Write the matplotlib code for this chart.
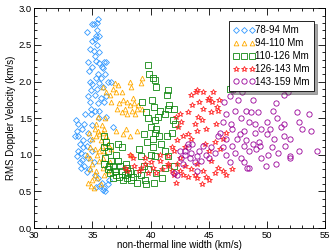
import matplotlib
matplotlib.use('Agg')
import matplotlib.pyplot as plt
from matplotlib.ticker import MultipleLocator

plt.rcParams['font.family'] = ['Liberation Sans', 'DejaVu Sans']

# 78-94 Mm
x1 = [35.5, 35.4, 35.0, 35.1, 34.5, 35.4, 35.6, 35.2, 35.3, 35.0, 35.4, 34.8, 35.1, 35.6, 35.2,
      34.6, 35.3, 35.6, 36.0, 36.2, 35.8, 35.0, 34.7, 35.5, 35.9, 36.1, 35.3, 35.7, 34.8, 35.0,
      35.6, 36.3, 36.6, 35.9, 35.4, 34.9, 35.2, 34.6, 35.7, 36.2, 34.8, 35.5, 36.0, 35.2, 34.9,
      35.6, 34.4, 33.6, 33.8, 34.3, 35.0, 36.2, 33.7, 34.1, 34.6, 33.8, 34.2, 33.9, 34.5, 33.8,
      34.0, 34.4, 33.7, 34.1, 33.9, 34.3, 34.0, 34.7, 34.5, 35.5, 35.8, 35.6, 36.0, 36.1, 35.9,
      36.3, 35.3, 36.8, 35.0, 34.6, 35.2, 35.6, 34.2, 34.8, 36.4, 35.1, 33.5, 34.9]
y1 = [2.85, 2.80, 2.78, 2.78, 2.68, 2.70, 2.62, 2.58, 2.62, 2.55, 2.50, 2.45, 2.42, 2.40, 2.35,
      2.27, 2.28, 2.25, 2.27, 2.27, 2.20, 2.20, 2.15, 2.10, 2.18, 2.10, 2.05, 2.05, 2.00, 1.97,
      1.98, 2.00, 2.00, 1.92, 1.90, 1.88, 1.82, 1.80, 1.78, 1.80, 1.72, 1.70, 1.72, 1.60, 1.55,
      1.50, 1.55, 1.48, 1.42, 1.42, 1.40, 1.52, 1.32, 1.35, 1.30, 1.25, 1.20, 1.15, 1.12, 1.05,
      1.02, 1.00, 0.98, 0.93, 0.90, 0.85, 0.82, 0.80, 0.76, 0.68, 0.62, 0.58, 0.55, 0.50, 0.52,
      0.60, 0.56, 1.38, 1.05, 0.95, 0.72, 1.60, 1.10, 1.20, 0.65, 0.90, 1.25, 1.62]

# 94-110 Mm
x2 = [39.3, 39.2, 38.2, 38.3, 37.2, 36.9, 36.8, 37.0, 37.5, 35.9, 36.2, 36.5, 38.5, 37.6, 37.3,
      36.6, 38.0, 38.2, 38.6, 38.9, 37.1, 37.8, 38.4, 38.8, 39.3, 37.5, 38.7, 35.5, 36.1, 38.0,
      35.3, 35.8, 36.0, 35.2, 35.5, 35.9, 35.3, 35.0, 35.7, 36.2, 37.0, 38.8, 37.9, 38.2, 35.6,
      34.8, 35.2, 35.8, 34.5, 35.4, 36.0, 34.8, 35.0, 35.6, 36.5, 38.3, 34.8, 35.3, 35.9, 35.2,
      35.0, 34.6, 34.9, 35.1, 35.4, 35.7, 36.0, 36.3, 35.6, 34.7, 36.3, 36.6, 37.6, 35.9]
y2 = [2.05, 1.98, 2.00, 1.92, 1.95, 1.98, 1.90, 1.85, 1.85, 1.92, 1.85, 1.82, 1.78, 1.75, 1.70,
      1.72, 1.72, 1.68, 1.70, 1.68, 1.62, 1.62, 1.60, 1.62, 1.62, 1.58, 1.55, 1.52, 1.50, 1.55,
      1.42, 1.40, 1.35, 1.35, 1.32, 1.30, 1.25, 1.22, 1.20, 1.25, 1.32, 1.32, 1.35, 1.25, 1.28,
      1.10, 1.08, 1.12, 1.00, 1.00, 1.05, 0.95, 0.88, 0.92, 0.90, 1.00, 0.80, 0.78, 0.82, 0.72,
      0.65, 0.62, 0.58, 0.55, 0.68, 0.60, 0.72, 0.78, 1.05, 1.30, 1.15, 1.08, 1.28, 0.95]

# 110-126 Mm
x3 = [39.8, 39.9, 40.2, 40.4, 40.5, 41.5, 41.4, 46.8, 40.1, 39.3, 40.3, 39.6, 41.6, 41.5, 40.8,
      42.0, 41.2, 39.8, 40.4, 40.6, 41.9, 40.0, 40.4, 39.4, 40.2, 40.7, 41.4, 41.8, 42.1, 40.5,
      39.7, 40.2, 40.9, 41.2, 36.0, 36.2, 36.0, 36.5, 37.2, 37.5, 36.3, 37.0, 39.0, 39.2, 40.0,
      40.4, 41.5, 36.1, 36.6, 37.2, 36.0, 36.8, 37.4, 38.0, 36.3, 36.9, 37.5, 38.2, 38.8, 36.5,
      37.0, 37.8, 38.5, 39.2, 37.3, 36.8, 38.0, 39.5, 38.3, 37.6, 38.8, 39.6, 40.3, 41.0, 40.5,
      41.2, 42.0, 39.8, 38.1, 36.4, 37.9, 39.4]
y3 = [2.22, 2.10, 2.05, 2.02, 1.92, 1.88, 1.82, 1.90, 1.75, 1.72, 1.65, 1.58, 1.68, 1.62, 1.60,
      1.62, 1.55, 1.50, 1.48, 1.52, 1.48, 1.38, 1.30, 1.28, 1.22, 1.25, 1.25, 1.30, 1.42, 1.35,
      1.18, 1.10, 1.15, 1.05, 1.25, 1.18, 1.10, 1.12, 1.15, 1.10, 1.05, 1.00, 1.08, 0.98, 1.00,
      0.98, 0.98, 0.95, 0.92, 0.92, 0.88, 0.85, 0.85, 0.82, 0.80, 0.78, 0.78, 0.78, 0.75, 0.75,
      0.72, 0.72, 0.70, 0.72, 0.70, 0.68, 0.68, 0.65, 0.65, 0.65, 0.62, 0.60, 0.62, 0.68, 0.75,
      0.82, 0.85, 0.80, 0.75, 0.85, 0.88, 0.85]

# 126-143 Mm
x4 = [44.0, 43.9, 44.5, 45.4, 43.5, 45.0, 45.9, 44.9, 44.2, 45.3, 45.7, 43.6, 44.5, 45.2, 45.8,
      43.2, 42.5, 42.2, 44.1, 44.4, 42.6, 43.8, 45.6, 42.4, 44.0, 44.8, 43.2, 42.8, 43.5, 42.3,
      44.7, 45.5, 46.2, 46.5, 41.8, 42.0, 43.0, 45.0, 46.0, 40.8, 41.5, 42.5, 38.5, 38.2, 39.5,
      40.0, 40.8, 41.5, 42.3, 43.0, 44.0, 45.2, 38.6, 39.2, 40.2, 41.0, 41.8, 42.5, 43.5, 44.5,
      45.8, 38.0, 39.0, 39.8, 40.5, 42.0, 42.8, 43.8, 44.8, 45.5, 46.2, 47.0, 46.5, 44.0, 45.0,
      43.2, 41.5, 39.5, 37.8, 42.2, 44.4]
y4 = [1.88, 1.85, 1.85, 1.85, 1.82, 1.78, 1.75, 1.75, 1.72, 1.72, 1.65, 1.68, 1.62, 1.58, 1.60,
      1.58, 1.55, 1.52, 1.52, 1.48, 1.45, 1.42, 1.42, 1.38, 1.32, 1.35, 1.28, 1.25, 1.22, 1.20,
      1.15, 1.18, 1.22, 1.30, 1.10, 1.05, 1.10, 1.05, 1.08, 1.00, 0.98, 0.96, 0.95, 1.00, 0.95,
      0.90, 0.92, 0.88, 0.88, 0.85, 0.88, 0.92, 0.85, 0.82, 0.82, 0.80, 0.78, 0.78, 0.80, 0.78,
      0.82, 0.78, 0.78, 0.75, 0.75, 0.72, 0.72, 0.72, 0.70, 0.75, 0.78, 0.80, 0.72, 0.68, 0.65,
      0.70, 0.85, 0.88, 0.82, 0.62, 0.60]

# 143-159 Mm
x5 = [51.8, 51.8, 51.5, 47.1, 47.9, 46.8, 47.5, 48.8, 50.8, 46.3, 48.2, 48.6, 47.3, 46.5, 49.2,
      50.5, 52.6, 53.6, 47.8, 48.5, 50.9, 51.5, 52.8, 46.2, 46.9, 49.0, 50.0, 47.0, 48.0, 49.5,
      50.3, 51.2, 53.0, 53.8, 46.0, 47.7, 49.0, 50.0, 51.5, 46.5, 47.4, 48.2, 49.3, 50.6, 52.0,
      43.2, 43.6, 44.2, 44.5, 45.2, 46.2, 47.0, 48.0, 48.8, 49.4, 50.4, 51.6, 52.8, 54.3, 42.5,
      43.0, 43.5, 44.0, 44.8, 45.5, 46.5, 47.3, 48.5, 49.1, 50.1, 51.0, 52.0, 42.6, 43.4, 44.3,
      45.0, 47.8, 49.5, 52.0, 42.8, 43.8, 46.8, 48.0, 49.9, 50.8, 42.0, 42.3, 44.0, 48.3, 48.5,
      43.2, 43.0, 45.8]
y5 = [1.95, 1.85, 1.82, 1.88, 1.85, 1.80, 1.75, 1.75, 1.70, 1.72, 1.60, 1.58, 1.60, 1.55, 1.58,
      1.60, 1.58, 1.55, 1.50, 1.45, 1.50, 1.42, 1.45, 1.45, 1.42, 1.42, 1.45, 1.35, 1.32, 1.35,
      1.35, 1.38, 1.35, 1.32, 1.30, 1.28, 1.30, 1.28, 1.25, 1.22, 1.22, 1.20, 1.18, 1.22, 1.22,
      1.10, 1.15, 1.05, 1.12, 1.10, 1.10, 1.12, 1.12, 1.15, 1.12, 1.10, 1.12, 1.05, 1.05, 1.05,
      1.00, 1.02, 0.98, 1.00, 1.02, 1.00, 1.02, 1.05, 1.08, 1.00, 1.02, 0.98, 0.95, 0.95, 0.92,
      0.95, 0.95, 0.95, 0.95, 0.88, 0.90, 0.90, 0.90, 0.85, 0.88, 0.75, 0.72, 0.78, 0.82, 0.82,
      1.15, 1.05, 1.25]

labels = ['78-94 Mm', '94-110 Mm', '110-126 Mm', '126-143 Mm', '143-159 Mm']

fig = plt.figure(figsize=(3.33, 2.5), dpi=100)
ax = fig.add_axes([0.103, 0.088, 0.873, 0.879])

ax.plot(x1, y1, 'D', ms=3.0, mfc='none', mec='#3399ff', mew=0.6, ls='none', label=labels[0])
ax.plot(x2, y2, '^', ms=3.4, mfc='none', mec='#ffaa00', mew=0.6, ls='none', label=labels[1])
ax.plot(x3, y3, 's', ms=3.8, mfc='none', mec='#118811', mew=0.6, ls='none', label=labels[2])
ax.plot(x4, y4, '*', ms=4.3, mfc='none', mec='#ff2020', mew=0.6, ls='none', label=labels[3])
ax.plot(x5, y5, 'o', ms=3.8, mfc='none', mec='#990099', mew=0.6, ls='none', label=labels[4])

ax.set_xlim(30, 55)
ax.set_ylim(0, 3)
ax.xaxis.set_major_locator(MultipleLocator(5))
ax.xaxis.set_minor_locator(MultipleLocator(1))
ax.yaxis.set_major_locator(MultipleLocator(0.5))
ax.yaxis.set_minor_locator(MultipleLocator(0.1))
ax.yaxis.set_major_formatter(plt.FormatStrFormatter('%.1f'))
ax.tick_params(which='both', direction='in', top=True, right=True, labelsize=6.8, width=0.6)
ax.tick_params(axis='x', which='both', pad=2.2)
ax.tick_params(axis='y', which='both', pad=1.5)
ax.tick_params(which='major', length=5)
ax.tick_params(which='minor', length=2.5)
for s in ax.spines.values():
    s.set_linewidth(0.6)
ax.set_xlabel('non-thermal line width (km/s)', fontsize=7, labelpad=0)
ax.set_ylabel('RMS Doppler Velocity (km/s)', fontsize=7, labelpad=2)

leg = ax.legend(loc='upper right', numpoints=3, fontsize=7, frameon=True, fancybox=False,
                shadow=True, framealpha=1, edgecolor='black', handlelength=2.2,
                handletextpad=0.1, borderpad=0.45, labelspacing=0.3,
                bbox_to_anchor=(0.98, 0.965))
leg.get_frame().set_linewidth(0.6)

plt.savefig('out.png', dpi=100)
